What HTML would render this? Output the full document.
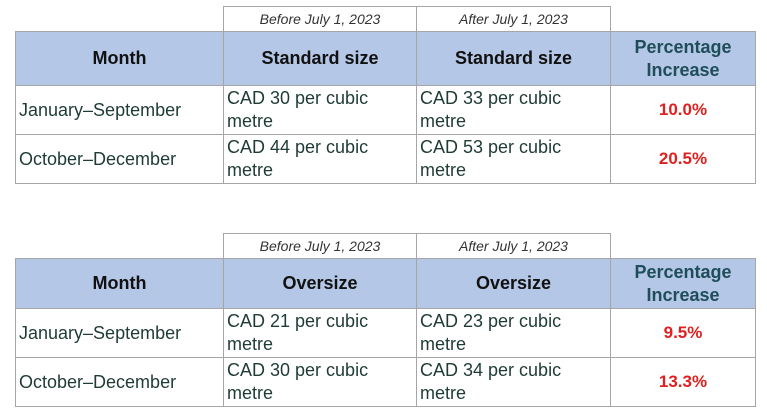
<!DOCTYPE html>
<html><head><meta charset="utf-8"><style>
body{margin:0;width:767px;height:412px;background:#fff;position:relative;overflow:hidden;font-family:"Liberation Sans",Arial,sans-serif}
.c{position:absolute;box-sizing:border-box;border:1px solid #a6a6a6;display:flex;align-items:center}
.it{font-style:italic;font-size:14px;color:#333;justify-content:center}
.h{background:#b4c7e7;font-weight:bold;font-size:18px;color:#111;justify-content:center;text-align:center;line-height:23px}
.ph{color:#1f4e5a}
.d{font-size:18px;color:#1f3b36;padding-left:3px;line-height:23px}
.p{font-weight:bold;font-size:17px;color:#e0201f;justify-content:center}
</style></head><body>
<div>
<div class="c it" style="left:223px;top:6px;width:194px;height:26px">Before July 1, 2023</div>
<div class="c it" style="left:416px;top:6px;width:195px;height:26px">After July 1, 2023</div>
<div class="c h" style="left:15px;top:31px;width:209px;height:55px">Month</div>
<div class="c h" style="left:223px;top:31px;width:194px;height:55px">Standard size</div>
<div class="c h" style="left:416px;top:31px;width:195px;height:55px">Standard size</div>
<div class="c h ph" style="left:610px;top:31px;width:146px;height:55px">Percentage<br>Increase</div>
<div class="c d" style="left:15px;top:85px;width:209px;height:50px">January–September</div>
<div class="c d" style="left:223px;top:85px;width:194px;height:50px">CAD 30 per cubic<br>metre</div>
<div class="c d" style="left:416px;top:85px;width:195px;height:50px">CAD 33 per cubic<br>metre</div>
<div class="c p" style="left:610px;top:85px;width:146px;height:50px">10.0%</div>
<div class="c d" style="left:15px;top:134px;width:209px;height:50px">October–December</div>
<div class="c d" style="left:223px;top:134px;width:194px;height:50px">CAD 44 per cubic<br>metre</div>
<div class="c d" style="left:416px;top:134px;width:195px;height:50px">CAD 53 per cubic<br>metre</div>
<div class="c p" style="left:610px;top:134px;width:146px;height:50px">20.5%</div>
</div>
<div>
<div class="c it" style="left:223px;top:233px;width:194px;height:26px">Before July 1, 2023</div>
<div class="c it" style="left:416px;top:233px;width:195px;height:26px">After July 1, 2023</div>
<div class="c h" style="left:15px;top:258px;width:209px;height:51px">Month</div>
<div class="c h" style="left:223px;top:258px;width:194px;height:51px">Oversize</div>
<div class="c h" style="left:416px;top:258px;width:195px;height:51px">Oversize</div>
<div class="c h ph" style="left:610px;top:258px;width:146px;height:51px">Percentage<br>Increase</div>
<div class="c d" style="left:15px;top:308px;width:209px;height:50px">January–September</div>
<div class="c d" style="left:223px;top:308px;width:194px;height:50px">CAD 21 per cubic<br>metre</div>
<div class="c d" style="left:416px;top:308px;width:195px;height:50px">CAD 23 per cubic<br>metre</div>
<div class="c p" style="left:610px;top:308px;width:146px;height:50px">9.5%</div>
<div class="c d" style="left:15px;top:357px;width:209px;height:50px">October–December</div>
<div class="c d" style="left:223px;top:357px;width:194px;height:50px">CAD 30 per cubic<br>metre</div>
<div class="c d" style="left:416px;top:357px;width:195px;height:50px">CAD 34 per cubic<br>metre</div>
<div class="c p" style="left:610px;top:357px;width:146px;height:50px">13.3%</div>
</div>
</body></html>
